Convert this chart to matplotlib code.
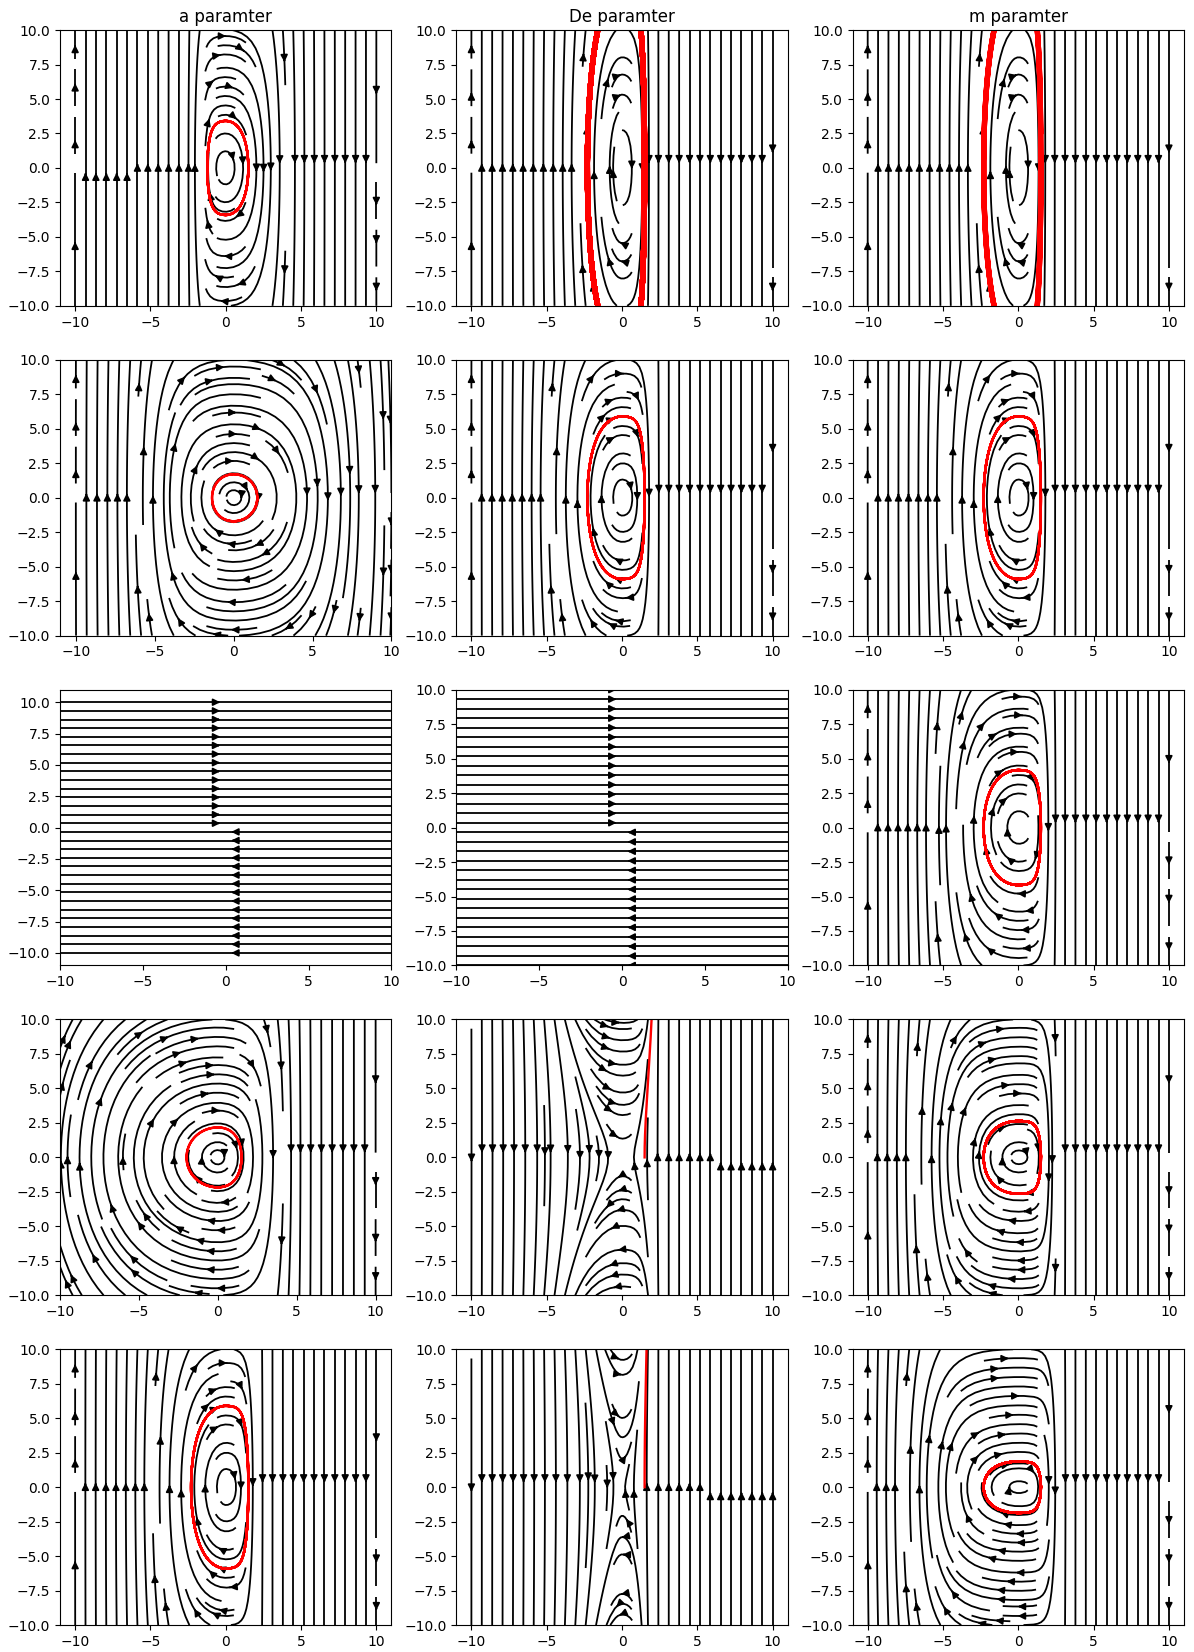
import math
import numpy as np
import matplotlib
matplotlib.use('Agg')
import matplotlib.pyplot as plt

titles = ['a paramter', 'De paramter', 'm paramter']

# well shape for every panel, row by row (left side / right side stiffness)
kL = [0.277, 7.8, 7.8,
      1.92, 7.8, 7.8,
      0.0, 7.8, 7.8,
      22.3, 7.8, 7.8,
      7.8, 7.8, 7.8]
bL = [3.1, 0.8, 0.8,
      0.85, 0.8, 0.8,
      0.0, 0.8, 0.8,
      0.23, 0.8, 0.8,
      0.8, 0.8, 0.8]
kR = [2.49, 0.1845, 0.1845,
      4.03, 0.1845, 0.1845,
      0.0, 0.1845, 0.1845,
      0.75, 0.1845, 0.1845,
      0.1845, 0.1845, 0.1845]
bR = [1.25, 3.5, 3.5,
      0.55, 3.5, 3.5,
      0.0, 3.5, 3.5,
      1.4, 3.5, 3.5,
      3.5, 3.5, 3.5]
De = [1, 5, 1,
      1, 1, 1,
      1, 0, 1,
      1, -0.7, 1,
      1, -5, 1]
m = [1, 1, 5,
     1, 1, 1,
     1, 1, 0.5,
     1, 1, 0.2,
     1, 1, 0.1]

# start of the red trajectory
x_start = 1.5
p_start = 0.0

# red line width per panel
red_lw = [1.7, 3.8, 3.8,
          1.7, 1.7, 1.7,
          1.7, 1.7, 1.7,
          1.7, 1.7, 1.7,
          1.7, 1.7, 1.7]

xlims = [(-11, 11), (-11, 11), (-11, 11),
         (-11, 10), (-11, 11), (-11, 11),
         (-10, 10), (-10, 10), (-11, 11),
         (-10, 11), (-11, 11), (-11, 11),
         (-11, 11), (-11, 11), (-11, 11)]
ylims = [(-10, 10), (-10, 10), (-10, 10),
         (-10, 10), (-10, 10), (-10, 10),
         (-11, 11), (-10, 10), (-10, 10),
         (-10, 10), (-10, 10), (-10, 10),
         (-10, 10), (-10, 10), (-10, 10)]


def force(x, i):
    return np.where(x < 0,
                    -kL[i] * bL[i] * np.sinh(bL[i] * x),
                    -kR[i] * bR[i] * np.sinh(bR[i] * x))


def force1(x, i):
    if x < 0:
        return -kL[i] * bL[i] * math.sinh(bL[i] * x)
    return -kR[i] * bR[i] * math.sinh(bR[i] * x)


def trajectory(i, dt=5e-4, T=12.0):
    x, p = x_start, p_start
    xs, ps = [x], [p]

    def f(x, p):
        return p / m[i], De[i] * force1(x, i)

    for _ in range(int(T / dt)):
        k1 = f(x, p)
        k2 = f(x + dt / 2 * k1[0], p + dt / 2 * k1[1])
        k3 = f(x + dt / 2 * k2[0], p + dt / 2 * k2[1])
        k4 = f(x + dt * k3[0], p + dt * k3[1])
        x += dt / 6 * (k1[0] + 2 * k2[0] + 2 * k3[0] + k4[0])
        p += dt / 6 * (k1[1] + 2 * k2[1] + 2 * k3[1] + k4[1])
        xs.append(x)
        ps.append(p)
        if abs(p) > 15 or abs(x) > 15:
            break
    return np.array(xs), np.array(ps)


xg = np.linspace(-10, 10, 301)
pg = np.linspace(-10, 10, 301)
X, P = np.meshgrid(xg, pg)

fig, axes = plt.subplots(5, 3, figsize=(11.94, 16.52), dpi=100)
fig.subplots_adjust(left=0.0503, right=0.9916, top=0.9818, bottom=0.0163,
                    wspace=0.196, hspace=0.196)

for i in range(15):
    ax = axes[i // 3, i % 3]
    U = P / m[i]
    V = De[i] * force(X, i)
    ax.streamplot(xg, pg, U, V, color='k', linewidth=1.3)
    tx, tp = trajectory(i)
    ax.plot(tx, tp, 'r', lw=red_lw[i])
    ax.set_xlim(xlims[i])
    ax.set_ylim(ylims[i])
    if i < 3:
        ax.set_title(titles[i])

fig.savefig('out.png', dpi=100)
